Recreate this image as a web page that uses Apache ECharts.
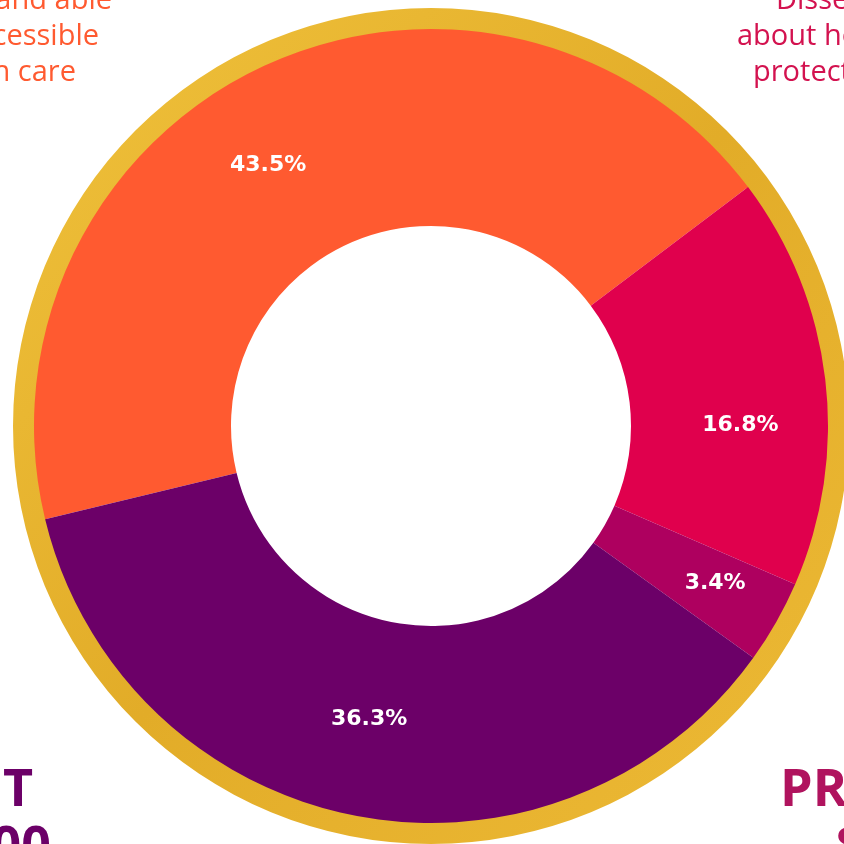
<!DOCTYPE html>
<html>
<head>
<meta charset="utf-8">
<style>
  html, body { margin: 0; padding: 0; background: #ffffff; }
  #chart { width: 844px; height: 844px; }
</style>
<script src="https://cdn.jsdelivr.net/npm/echarts@6/dist/echarts.min.js"></script>
</head>
<body>
<div id="chart"></div>
<script>
// slice data, clockwise from the lower left
const categories = ['Affordable and accessible health care', 'Disseminate info about health protection', 'Other', 'Investment']
const values = [43.5, 16.8, 3.4, 36.3]
const sliceColors = ['#FF5A30', '#E0004D', '#AE005F', '#6C0068']
// nudges so the labels sit where the original put them
const labelNudge = [[-34, 12], [10, 35], [22, 8], [-4, -3]]

const chart = echarts.init(document.getElementById('chart'))

const cornerFont = '29px "Open Sans"'
const bigFont = 'bold 52px "Open Sans"'

const option = {
  backgroundColor: '#ffffff',
  animation: false,
  series: [
    {
      // gold rim
      type: 'pie',
      silent: true,
      center: [431, 426],
      radius: [395, 418],
      label: { show: false },
      itemStyle: {
        color: new echarts.graphic.LinearGradient(0, 0, 1, 1, [
          { offset: 0, color: '#F0C23C' },
          { offset: 0.5, color: '#E2AC28' },
          { offset: 1, color: '#EDBA36' },
        ]),
      },
      data: [{ value: 1, name: 'rim' }],
    },
    {
      type: 'pie',
      center: [431, 426],
      radius: [200, 397],
      startAngle: 193.6,
      clockwise: true,
      label: {
        show: true,
        position: 'inside',
        formatter: (p) => p.value.toFixed(1) + '%',
        color: '#ffffff',
        fontFamily: 'DejaVu Sans',
        fontWeight: 'bold',
        fontSize: 22,
      },
      labelLine: { show: false },
      itemStyle: { borderWidth: 0 },
      data: categories.map((name, i) => ({
        name,
        value: values[i],
        itemStyle: { color: sliceColors[i] },
        label: { offset: labelNudge[i] },
      })),
    },
  ],
  graphic: [
    {
      type: 'text', x: 112, y: 15,
      style: { text: 'Sound and able', fill: '#FF5A30', font: cornerFont, textAlign: 'right', textVerticalAlign: 'bottom' },
    },
    {
      type: 'text', x: 99, y: 51,
      style: { text: 'accessible', fill: '#FF5A30', font: cornerFont, textAlign: 'right', textVerticalAlign: 'bottom' },
    },
    {
      type: 'text', x: 76, y: 87,
      style: { text: 'health care', fill: '#FF5A30', font: cornerFont, textAlign: 'right', textVerticalAlign: 'bottom' },
    },
    {
      type: 'text', x: 776, y: 15,
      style: { text: 'Disseminate', fill: '#D3124F', font: cornerFont, textAlign: 'left', textVerticalAlign: 'bottom' },
    },
    {
      type: 'text', x: 737, y: 51,
      style: { text: 'about health', fill: '#D3124F', font: cornerFont, textAlign: 'left', textVerticalAlign: 'bottom' },
    },
    {
      type: 'text', x: 753, y: 87,
      style: { text: 'protection', fill: '#D3124F', font: cornerFont, textAlign: 'left', textVerticalAlign: 'bottom' },
    },
    {
      type: 'text', x: 33, y: 817,
      style: { text: 'INVESTMENT', fill: '#6C0068', font: bigFont, textAlign: 'right', textVerticalAlign: 'bottom' },
    },
    {
      type: 'text', x: 51, y: 874,
      style: { text: '$500,000', fill: '#6C0068', font: bigFont, textAlign: 'right', textVerticalAlign: 'bottom' },
    },
    {
      type: 'text', x: 780, y: 817,
      style: { text: 'PROTECTION', fill: '#B0135E', font: bigFont, textAlign: 'left', textVerticalAlign: 'bottom' },
    },
    {
      type: 'text', x: 836, y: 874,
      style: { text: '$200,000', fill: '#B0135E', font: bigFont, textAlign: 'left', textVerticalAlign: 'bottom' },
    },
  ],
}

chart.setOption(option)
</script>
</body>
</html>
